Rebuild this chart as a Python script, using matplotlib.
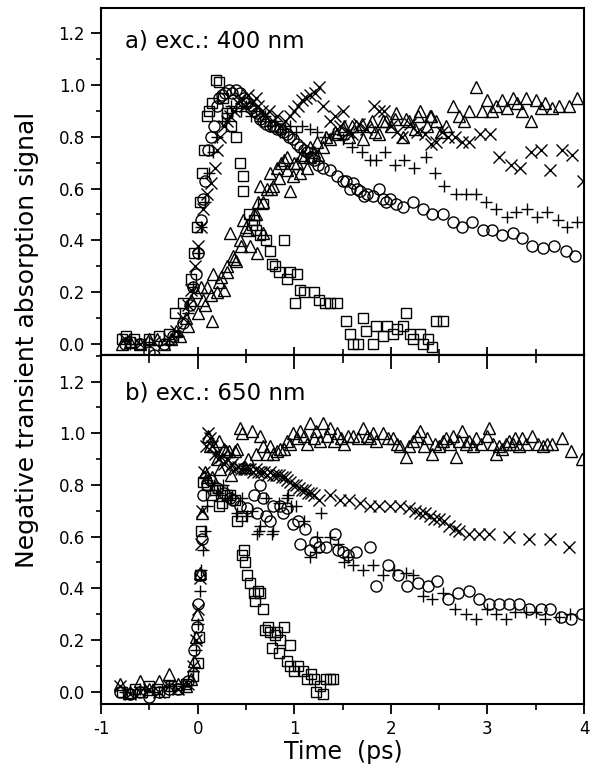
"""Two-panel transient absorption kinetics (exc. 400 nm / 650 nm)."""

import matplotlib

matplotlib.use("Agg")
import matplotlib.pyplot as plt
from matplotlib.ticker import MultipleLocator

# ---- panel a) exc. 400 nm ----
a_sq_t = [-0.78, -0.74, -0.70, -0.66, -0.60, -0.50, -0.40, -0.30, -0.23, -0.15,
          -0.07, -0.04, -0.01, 0.02, 0.05, 0.07, 0.10, 0.12, 0.15, 0.19,
          0.22, 0.26, 0.30, 0.35, 0.40, 0.44, 0.47, 0.47, 0.53, 0.56,
          0.58, 0.60, 0.65, 0.68, 0.71, 0.75, 0.77, 0.80, 0.84, 0.89,
          0.92, 0.96, 1.01, 1.03, 1.06, 1.10, 1.20, 1.26, 1.32, 1.37,
          1.44, 1.54, 1.58, 1.61, 1.66, 1.71, 1.74, 1.81, 1.85, 1.92,
          1.96, 2.02, 2.06, 2.13, 2.16, 2.20, 2.23, 2.30, 2.33, 2.38,
          2.43, 2.47, 2.54]
a_sq_y = [0.02, 0.03, 0.01, 0.02, 0.00, 0.02, 0.03, 0.04, 0.12, 0.16,
          0.25, 0.35, 0.45, 0.55, 0.66, 0.75, 0.88, 0.90, 0.93, 1.02,
          1.01, 0.95, 0.89, 0.84, 0.80, 0.70, 0.65, 0.59, 0.50, 0.46,
          0.48, 0.44, 0.42, 0.54, 0.40, 0.36, 0.31, 0.30, 0.28, 0.40,
          0.25, 0.28, 0.16, 0.27, 0.21, 0.20, 0.20, 0.17, 0.16, 0.16,
          0.16, 0.09, 0.04, 0.00, 0.00, 0.10, 0.05, 0.00, 0.07, 0.03,
          0.07, 0.04, 0.06, 0.07, 0.12, 0.04, 0.02, 0.04, 0.00, 0.02,
          -0.01, 0.09, 0.09]

a_ci_t = [-0.75, -0.60, -0.50, -0.45, -0.35, -0.25, -0.15, -0.08, -0.05, -0.02,
          0.00, 0.03, 0.06, 0.08, 0.11, 0.14, 0.17, 0.20, 0.22, 0.25,
          0.28, 0.32, 0.36, 0.40, 0.44, 0.48, 0.51, 0.55, 0.58, 0.61,
          0.65, 0.68, 0.71, 0.75, 0.78, 0.82, 0.85, 0.88, 0.92, 0.95,
          0.99, 1.03, 1.06, 1.10, 1.13, 1.17, 1.20, 1.25, 1.30, 1.37,
          1.44, 1.50, 1.54, 1.58, 1.61, 1.65, 1.68, 1.72, 1.75, 1.81,
          1.88, 1.92, 1.95, 1.99, 2.05, 2.13, 2.23, 2.33, 2.43, 2.54,
          2.64, 2.74, 2.84, 2.95, 3.05, 3.15, 3.26, 3.36, 3.46, 3.57,
          3.69, 3.81, 3.91]
a_ci_y = [0.00, 0.00, -0.03, -0.04, 0.00, 0.03, 0.08, 0.15, 0.22, 0.27,
          0.35, 0.48, 0.56, 0.63, 0.75, 0.80, 0.84, 0.92, 0.95, 0.96,
          0.97, 0.98, 0.97, 0.98, 0.97, 0.95, 0.93, 0.91, 0.90, 0.89,
          0.87, 0.86, 0.85, 0.84, 0.84, 0.83, 0.83, 0.82, 0.81, 0.80,
          0.79, 0.77, 0.76, 0.75, 0.74, 0.72, 0.71, 0.69, 0.68, 0.67,
          0.65, 0.63, 0.63, 0.60, 0.62, 0.60, 0.59, 0.57, 0.58, 0.57,
          0.60, 0.56, 0.55, 0.56, 0.54, 0.53, 0.55, 0.52, 0.50, 0.50,
          0.47, 0.45, 0.47, 0.44, 0.44, 0.42, 0.43, 0.41, 0.38, 0.37,
          0.38, 0.36, 0.34]

# two overlapping scans of the slow rise (second scan appended after 3.93)
a_tr_t = [-0.78, -0.70, -0.60, -0.50, -0.42, -0.35, -0.28, -0.22, -0.18, -0.12,
          -0.07, -0.02, 0.03, 0.06, 0.10, 0.15, 0.16, 0.20, 0.24, 0.27,
          0.30, 0.34, 0.37, 0.40, 0.44, 0.47, 0.50, 0.54, 0.58, 0.61,
          0.63, 0.65, 0.68, 0.72, 0.75, 0.78, 0.82, 0.86, 0.89, 0.93,
          0.96, 0.99, 1.03, 1.06, 1.10, 1.13, 1.16, 1.20, 1.25, 1.30,
          1.37, 1.44, 1.51, 1.57, 1.64, 1.71, 1.78, 1.84, 1.88, 1.95,
          2.00, 2.05, 2.13, 2.19, 2.25, 2.30, 2.37, 2.42, 2.47, 2.52,
          2.57, 2.64, 2.71, 2.76, 2.81, 2.88, 2.94, 2.99, 3.05, 3.09,
          3.15, 3.20, 3.26, 3.31, 3.36, 3.40, 3.45, 3.50, 3.55, 3.60,
          3.67, 3.74, 3.84, 3.93,
          -0.10, 0.00, 0.08, 0.14, 0.22, 0.30, 0.38, 0.45, 0.52, 0.60,
          0.68, 0.76, 0.84, 0.92, 1.00, 1.08, 1.16, 1.24, 1.33, 1.42,
          1.50, 1.60, 1.70, 1.80, 1.92, 2.04, 2.16, 2.28, 2.40]
a_tr_y = [0.00, 0.01, 0.00, 0.02, 0.02, 0.00, 0.02, 0.05, 0.03, 0.10,
          0.17, 0.20, 0.22, 0.17, 0.22, 0.09, 0.27, 0.20, 0.26, 0.21,
          0.30, 0.43, 0.34, 0.32, 0.40, 0.48, 0.45, 0.38, 0.50, 0.35,
          0.55, 0.61, 0.43, 0.60, 0.66, 0.61, 0.68, 0.70, 0.71, 0.72,
          0.59, 0.65, 0.70, 0.66, 0.72, 0.68, 0.72, 0.74, 0.73, 0.76,
          0.79, 0.81, 0.84, 0.80, 0.84, 0.79, 0.84, 0.82, 0.81, 0.86,
          0.84, 0.89, 0.80, 0.86, 0.83, 0.90, 0.84, 0.88, 0.86, 0.82,
          0.84, 0.92, 0.88, 0.86, 0.90, 0.99, 0.90, 0.94, 0.90, 0.92,
          0.94, 0.91, 0.95, 0.93, 0.90, 0.95, 0.86, 0.94, 0.91, 0.93,
          0.91, 0.92, 0.92, 0.95,
          0.07, 0.12, 0.15, 0.19, 0.24, 0.28, 0.33, 0.38, 0.44, 0.50,
          0.55, 0.60, 0.64, 0.67, 0.70, 0.73, 0.76, 0.78, 0.80, 0.82,
          0.83, 0.84, 0.85, 0.86, 0.86, 0.87, 0.87, 0.88, 0.88]

a_x_t = [-0.75, -0.60, -0.45, -0.30, -0.22, -0.15, -0.10, -0.07, -0.03, 0.00,
         0.03, 0.06, 0.10, 0.14, 0.18, 0.20, 0.23, 0.27, 0.30, 0.34,
         0.38, 0.42, 0.45, 0.49, 0.52, 0.56, 0.60, 0.63, 0.67, 0.70,
         0.74, 0.78, 0.82, 0.86, 0.90, 0.96, 1.00, 1.04, 1.08, 1.12,
         1.16, 1.21, 1.26, 1.30, 1.37, 1.42, 1.47, 1.50, 1.56, 1.60,
         1.67, 1.74, 1.83, 1.88, 1.93, 2.00, 2.06, 2.12, 2.20, 2.27,
         2.35, 2.42, 2.47, 2.53, 2.59, 2.66, 2.74, 2.81, 2.92, 3.03,
         3.12, 3.24, 3.34, 3.45, 3.55, 3.65, 3.77, 3.87, 3.99]
a_x_y = [0.02, 0.00, 0.01, 0.02, 0.05, 0.10, 0.15, 0.21, 0.30, 0.38,
         0.45, 0.52, 0.58, 0.62, 0.68, 0.75, 0.80, 0.84, 0.86, 0.88,
         0.90, 0.93, 0.95, 0.92, 0.96, 0.93, 0.95, 0.92, 0.90, 0.88,
         0.90, 0.86, 0.88, 0.84, 0.86, 0.88, 0.90, 0.92, 0.94, 0.95,
         0.96, 0.97, 0.99, 0.92, 0.86, 0.88, 0.84, 0.90, 0.82, 0.81,
         0.85, 0.83, 0.92, 0.90, 0.90, 0.84, 0.82, 0.80, 0.85, 0.82,
         0.81, 0.77, 0.78, 0.82, 0.80, 0.80, 0.78, 0.78, 0.81, 0.81,
         0.72, 0.69, 0.68, 0.74, 0.75, 0.67, 0.75, 0.73, 0.63]

a_pl_t = [-0.70, -0.50, -0.30, -0.20, -0.10, -0.05, 0.00, 0.04, 0.08, 0.12,
          0.16, 0.20, 0.25, 0.30, 0.35, 0.40, 0.45, 0.50, 0.55, 0.60,
          0.65, 0.70, 0.75, 0.80, 0.85, 0.90, 0.96, 1.02, 1.08, 1.16,
          1.24, 1.32, 1.40, 1.50, 1.60, 1.70, 1.78, 1.85, 1.94, 2.04,
          2.14, 2.24, 2.36, 2.46, 2.55, 2.67, 2.78, 2.88, 2.98, 3.09,
          3.20, 3.30, 3.41, 3.51, 3.62, 3.73, 3.82, 3.93]
a_pl_y = [0.00, 0.01, 0.00, 0.03, 0.12, 0.22, 0.35, 0.45, 0.55, 0.66,
          0.74, 0.80, 0.86, 0.89, 0.92, 0.91, 0.90, 0.92, 0.88, 0.90,
          0.86, 0.88, 0.84, 0.86, 0.82, 0.83, 0.84, 0.82, 0.84, 0.83,
          0.82, 0.80, 0.81, 0.79, 0.76, 0.74, 0.71, 0.71, 0.74, 0.69,
          0.71, 0.68, 0.72, 0.66, 0.61, 0.58, 0.58, 0.58, 0.55, 0.52,
          0.49, 0.51, 0.52, 0.49, 0.51, 0.48, 0.45, 0.47]

# ---- panel b) exc. 650 nm ----
b_sq_t = [-0.78, -0.72, -0.65, -0.58, -0.50, -0.42, -0.35, -0.28, -0.20, -0.12,
          -0.05, 0.00, 0.01, 0.02, 0.03, 0.06, 0.10, 0.14, 0.18, 0.22,
          0.25, 0.25, 0.30, 0.34, 0.39, 0.41, 0.45, 0.46, 0.48, 0.49,
          0.51, 0.54, 0.58, 0.59, 0.62, 0.65, 0.68, 0.70, 0.73, 0.75,
          0.77, 0.80, 0.82, 0.84, 0.85, 0.89, 0.92, 0.96, 0.96, 1.00,
          1.04, 1.09, 1.13, 1.17, 1.20, 1.23, 1.27, 1.30, 1.33, 1.37,
          1.40]
b_sq_y = [0.00, -0.01, 0.01, 0.00, 0.02, 0.01, 0.00, 0.02, 0.01, 0.03,
          0.06, 0.11, 0.21, 0.45, 0.62, 0.81, 0.80, 0.76, 0.78, 0.72,
          0.78, 0.73, 0.76, 0.76, 0.74, 0.66, 0.68, 0.53, 0.55, 0.50,
          0.45, 0.42, 0.38, 0.35, 0.39, 0.38, 0.32, 0.24, 0.25, 0.23,
          0.17, 0.22, 0.23, 0.15, 0.20, 0.25, 0.12, 0.18, 0.10, 0.08,
          0.10, 0.08, 0.05, 0.07, 0.05, 0.00, 0.02, -0.01, 0.05, 0.05,
          0.05]

b_ci_t = [-0.80, -0.70, -0.60, -0.50, -0.40, -0.30, -0.20, -0.10, -0.04, -0.01,
          0.00, 0.02, 0.05, 0.06, 0.10, 0.13, 0.20, 0.27, 0.33, 0.37,
          0.44, 0.51, 0.58, 0.61, 0.65, 0.68, 0.71, 0.75, 0.78, 0.85,
          0.88, 0.92, 0.99, 1.04, 1.06, 1.11, 1.16, 1.21, 1.26, 1.33,
          1.42, 1.45, 1.50, 1.56, 1.64, 1.78, 1.85, 1.97, 2.07, 2.17,
          2.28, 2.38, 2.48, 2.59, 2.69, 2.81, 2.91, 3.02, 3.12, 3.22,
          3.33, 3.43, 3.55, 3.65, 3.76, 3.86, 3.98]
b_ci_y = [0.00, -0.01, 0.00, -0.02, 0.00, 0.01, 0.01, 0.04, 0.16, 0.25,
          0.34, 0.45, 0.59, 0.76, 0.80, 0.82, 0.79, 0.77, 0.75, 0.74,
          0.72, 0.71, 0.76, 0.69, 0.80, 0.75, 0.68, 0.66, 0.72, 0.72,
          0.69, 0.71, 0.65, 0.66, 0.57, 0.63, 0.55, 0.58, 0.56, 0.56,
          0.61, 0.55, 0.54, 0.53, 0.54, 0.56, 0.41, 0.49, 0.45, 0.41,
          0.42, 0.41, 0.43, 0.36, 0.38, 0.39, 0.36, 0.34, 0.34, 0.34,
          0.34, 0.32, 0.32, 0.32, 0.29, 0.28, 0.30]

b_tr_t = [-0.80, -0.70, -0.60, -0.50, -0.40, -0.30, -0.20, -0.12, -0.07, -0.04,
          -0.02, -0.01, 0.02, 0.05, 0.08, 0.10, 0.11, 0.13, 0.15, 0.17,
          0.20, 0.22, 0.23, 0.27, 0.29, 0.32, 0.35, 0.39, 0.41, 0.44,
          0.46, 0.49, 0.52, 0.56, 0.60, 0.65, 0.68, 0.72, 0.75, 0.78,
          0.82, 0.85, 0.89, 0.93, 0.96, 0.99, 1.03, 1.06, 1.10, 1.13,
          1.16, 1.20, 1.23, 1.27, 1.30, 1.34, 1.37, 1.41, 1.44, 1.48,
          1.51, 1.56, 1.61, 1.66, 1.71, 1.75, 1.78, 1.82, 1.85, 1.92,
          1.97, 2.02, 2.06, 2.09, 2.16, 2.19, 2.23, 2.27, 2.30, 2.34,
          2.37, 2.43, 2.46, 2.50, 2.54, 2.57, 2.61, 2.64, 2.67, 2.71,
          2.74, 2.78, 2.81, 2.85, 2.88, 2.93, 2.99, 3.02, 3.06, 3.09,
          3.12, 3.15, 3.19, 3.22, 3.26, 3.29, 3.33, 3.36, 3.40, 3.46,
          3.52, 3.57, 3.62, 3.67, 3.77, 3.86, 3.98]
b_tr_y = [0.03, 0.00, 0.04, 0.01, 0.04, 0.07, 0.03, 0.02, 0.05, 0.12,
          0.21, 0.30, 0.46, 0.69, 0.85, 0.83, 0.99, 0.95, 0.83, 0.95,
          0.90, 0.97, 0.86, 0.94, 0.93, 0.93, 0.84, 0.93, 0.94, 1.02,
          1.00, 0.87, 0.90, 1.01, 0.92, 0.99, 0.95, 0.92, 0.95, 0.92,
          0.93, 0.94, 0.94, 0.97, 0.96, 1.00, 0.98, 1.01, 0.99, 0.96,
          1.04, 0.98, 1.01, 0.97, 1.04, 0.99, 1.02, 0.97, 1.00, 0.98,
          0.96, 0.99, 0.99, 0.98, 1.02, 0.99, 0.98, 1.00, 0.97, 1.00,
          0.98, 0.98, 0.96, 0.95, 0.91, 0.95, 0.97, 0.99, 1.01, 0.95,
          0.98, 0.92, 0.96, 0.95, 0.97, 0.98, 0.96, 0.99, 0.91, 0.97,
          1.01, 0.96, 0.97, 0.95, 0.98, 0.96, 0.99, 1.02, 0.96, 0.92,
          0.95, 0.94, 0.96, 0.97, 0.96, 0.98, 0.95, 0.98, 0.96, 0.99,
          0.96, 0.95, 0.96, 0.96, 0.98, 0.93, 0.90]

b_x_t = [-0.80, -0.70, -0.60, -0.50, -0.40, -0.30, -0.20, -0.10, -0.05, -0.02,
         0.00, 0.02, 0.03, 0.05, 0.07, 0.09, 0.11, 0.13, 0.15, 0.18,
         0.21, 0.24, 0.27, 0.30, 0.33, 0.36, 0.39, 0.42, 0.45, 0.48,
         0.51, 0.54, 0.57, 0.60, 0.63, 0.66, 0.69, 0.72, 0.75, 0.78,
         0.81, 0.84, 0.87, 0.90, 0.93, 0.96, 0.99, 1.02, 1.05, 1.08,
         1.11, 1.14, 1.17, 1.20, 1.26, 1.37, 1.47, 1.57, 1.68, 1.78,
         1.88, 1.99, 2.09, 2.19, 2.25, 2.30, 2.35, 2.40, 2.45, 2.50,
         2.55, 2.60, 2.66, 2.71, 2.81, 2.91, 3.02, 3.22, 3.43, 3.65,
         3.84]
b_x_y = [0.02, -0.01, 0.00, 0.01, 0.00, 0.02, 0.01, 0.03, 0.10, 0.20,
         0.32, 0.44, 0.57, 0.70, 0.85, 0.95, 1.00, 0.98, 0.95, 0.92,
         0.90, 0.91, 0.88, 0.90, 0.87, 0.88, 0.86, 0.87, 0.86, 0.86,
         0.86, 0.86, 0.85, 0.86, 0.85, 0.85, 0.85, 0.84, 0.85, 0.84,
         0.84, 0.84, 0.83, 0.83, 0.82, 0.81, 0.80, 0.80, 0.79, 0.78,
         0.78, 0.77, 0.77, 0.76, 0.74, 0.76, 0.74, 0.74, 0.73, 0.72,
         0.72, 0.72, 0.72, 0.71, 0.70, 0.69, 0.69, 0.68, 0.67, 0.67,
         0.66, 0.64, 0.63, 0.62, 0.61, 0.61, 0.61, 0.60, 0.59, 0.59,
         0.56]

b_pl_t = [-0.75, -0.60, -0.45, -0.30, -0.15, -0.05, -0.02, 0.00, 0.02, 0.04,
          0.06, 0.08, 0.10, 0.13, 0.17, 0.21, 0.26, 0.30, 0.35, 0.41,
          0.46, 0.51, 0.56, 0.61, 0.64, 0.65, 0.71, 0.77, 0.78, 0.84,
          0.92, 0.94, 0.97, 1.02, 1.10, 1.16, 1.23, 1.24, 1.28, 1.37,
          1.45, 1.51, 1.56, 1.61, 1.71, 1.81, 1.92, 2.03, 2.16, 2.23,
          2.33, 2.43, 2.54, 2.66, 2.78, 2.88, 2.99, 3.09, 3.19, 3.29,
          3.40, 3.50, 3.60, 3.74, 3.85]
b_pl_y = [0.00, 0.01, 0.00, 0.02, 0.02, 0.08, 0.16, 0.26, 0.39, 0.47,
          0.55, 0.62, 0.72, 0.78, 0.80, 0.77, 0.80, 0.74, 0.75, 0.69,
          0.75, 0.68, 0.70, 0.61, 0.62, 0.64, 0.75, 0.61, 0.62, 0.73,
          0.75, 0.76, 0.72, 0.72, 0.66, 0.52, 0.54, 0.60, 0.69, 0.60,
          0.57, 0.50, 0.52, 0.49, 0.47, 0.49, 0.45, 0.47, 0.46, 0.45,
          0.37, 0.36, 0.38, 0.32, 0.30, 0.28, 0.32, 0.30, 0.28, 0.31,
          0.31, 0.31, 0.28, 0.29, 0.30]

PANEL_LABELS = ["a) exc.: 400 nm", "b) exc.: 650 nm"]
Y_TICKS = [0.0, 0.2, 0.4, 0.6, 0.8, 1.0, 1.2]
X_TICKS = [-1, 0, 1, 2, 3, 4]

MARKERS = {"sq": ("s", 7.0), "ci": ("o", 8.0), "tr": ("^", 8.5), "x": ("x", 8.5), "pl": ("+", 8.5)}


def draw(ax, t, y, key):
    marker, ms = MARKERS[key]
    ax.plot(t, y, ls="none", marker=marker, ms=ms, mfc="none", mec="black", mew=1.0)


def style_axis(ax, ylim, label, label_y):
    ax.set_xlim(-1, 4)
    ax.set_ylim(*ylim)
    ax.set_xticks(X_TICKS)
    ax.set_yticks(Y_TICKS)
    ax.set_yticklabels([f"{v:.1f}" for v in Y_TICKS])
    ax.xaxis.set_minor_locator(MultipleLocator(0.5))
    ax.yaxis.set_minor_locator(MultipleLocator(0.1))
    for sp in ax.spines.values():
        sp.set_linewidth(1.5)
    ax.tick_params(axis="y", which="major", direction="out", length=7, width=1.3,
                   labelsize=12, pad=4.5, right=False)
    ax.tick_params(axis="y", which="minor", direction="out", length=3.5, width=1.2, right=False)
    ax.text(0.05, label_y, label, transform=ax.transAxes, fontsize=16.5,
            ha="left", va="center")


fig = plt.figure(figsize=(5.96, 7.72), dpi=100)
ax_a = fig.add_axes([0.1695, 0.5408, 0.8105, 0.4484])
ax_b = fig.add_axes([0.1695, 0.0881, 0.8105, 0.4527])

draw(ax_a, a_sq_t, a_sq_y, "sq")
draw(ax_a, a_ci_t, a_ci_y, "ci")
draw(ax_a, a_tr_t, a_tr_y, "tr")
draw(ax_a, a_x_t, a_x_y, "x")
draw(ax_a, a_pl_t, a_pl_y, "pl")

draw(ax_b, b_sq_t, b_sq_y, "sq")
draw(ax_b, b_ci_t, b_ci_y, "ci")
draw(ax_b, b_tr_t, b_tr_y, "tr")
draw(ax_b, b_x_t, b_x_y, "x")
draw(ax_b, b_pl_t, b_pl_y, "pl")

style_axis(ax_a, (-0.04, 1.295), PANEL_LABELS[0], 0.905)
style_axis(ax_b, (-0.048, 1.305), PANEL_LABELS[1], 0.89)

# top panel: ticks on the shared boundary point up, no labels
ax_a.tick_params(axis="x", which="major", direction="in", length=6, width=1.3,
                 top=False, labelbottom=False)
ax_a.tick_params(axis="x", which="minor", direction="in", length=4.3, width=1.2, top=False)

# bottom panel: bottom ticks out with labels, top ticks hang into the panel
ax_b.tick_params(axis="x", which="major", direction="out", length=7, width=1.3,
                 labelsize=12, pad=4.5)
ax_b.tick_params(axis="x", which="minor", direction="out", length=4.5, width=1.2)
ax_b.set_xticklabels([str(v) for v in X_TICKS])
sec = ax_b.secondary_xaxis("top")
sec.set_xticks(X_TICKS)
sec.xaxis.set_minor_locator(MultipleLocator(0.5))
sec.tick_params(axis="x", which="major", direction="in", length=10, width=1.3, labeltop=False)
sec.tick_params(axis="x", which="minor", direction="in", length=6, width=1.2)
sec.spines["top"].set_linewidth(1.5)

fig.text(27 / 596, 0.560, "Negative transient absorption signal", rotation=90,
         ha="center", va="center", fontsize=18)
fig.text(343 / 596, 0.026, "Time  (ps)", ha="center", va="center", fontsize=17)

fig.savefig("out.png", dpi=100)
